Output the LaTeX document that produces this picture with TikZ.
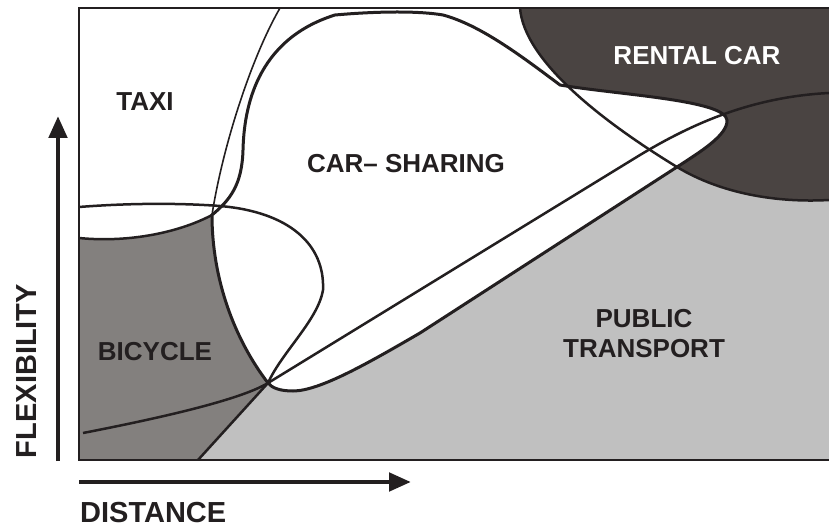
\documentclass[tikz,border=0pt]{standalone}
\usepackage{fontspec}
\setmainfont{Liberation Sans}
\usetikzlibrary{arrows.meta}
\definecolor{pubgray}{HTML}{C0C0C0}
\definecolor{bikegray}{HTML}{83807E}
\definecolor{rentdark}{HTML}{4A4442}
\definecolor{ink}{HTML}{231F20}
\begin{document}
\begin{tikzpicture}[x=1pt,y=-1pt,
  lbl/.style={font=\bfseries\fontsize{26}{29}\selectfont, text=ink, inner sep=0pt, anchor=base},
  axlbl/.style={font=\bfseries\fontsize{29}{32}\selectfont, text=ink, inner sep=0pt},
  bnd/.style={draw=ink, line width=2.5pt, line join=round},
  csline/.style={draw=ink, line width=3pt, line join=round},
  taxiline/.style={draw=ink, line width=1.6pt},
  framel/.style={draw=ink, line width=2.8pt},
  axarrow/.style={draw=ink, line width=4.8pt, -{Triangle[length=22pt,width=18pt]}},
]
\useasboundingbox (0,0) rectangle (829,529);

% public transport
\fill[pubgray] (198,460) -- (268,383) -- (680,160) -- (829,118) -- (829,460) -- cycle;
% rental car
\fill[rentdark] (520,8) .. controls (524,60) and (600,120) .. (677,167)
  .. controls (720,193) and (775,203) .. (829,200) -- (829,8) -- cycle;
% bicycle
\fill[bikegray] (79,238) .. controls (130,243) and (180,232) .. (212,215)
  .. controls (212,280) and (235,340) .. (268,383) -- (198,460) -- (79,460) -- cycle;
% car-sharing
\path[fill=white] (268,383) .. controls (235,340) and (212,280) .. (212,215)
  .. controls (230,200) and (242,185) .. (243,150)
  .. controls (244,110) and (255,40) .. (335,15)
  .. controls (380,11) and (420,11) .. (443,15)
  .. controls (480,25) and (520,55) .. (560,85)
  .. controls (620,95) and (725,100) .. (727,120)
  .. controls (728,135) and (700,152) .. (677,167)
  -- (420,333)
  .. controls (370,362) and (320,391) .. (293,391)
  .. controls (280,391) and (272,388) .. (268,383) -- cycle;

% lines
\draw[bnd] (520,8) .. controls (524,60) and (600,120) .. (677,167)
  .. controls (720,193) and (775,203) .. (829,200);
\draw[bnd] (79,207) .. controls (130,203) and (180,203) .. (220,206)
  .. controls (290,212) and (325,245) .. (323,290)
  .. controls (318,320) and (282,352) .. (268,383);
\draw[taxiline] (280,8) .. controls (250,60) and (222,150) .. (212,215);
\draw[bnd] (83,433) .. controls (160,418) and (240,400) .. (268,383) -- (640,155)
  .. controls (690,125) and (750,97) .. (829,93);
\draw[bnd] (79,238) .. controls (130,243) and (180,232) .. (212,215);
\draw[bnd] (268,383) -- (198,460);
\draw[csline] (268,383) .. controls (235,340) and (212,280) .. (212,215)
  .. controls (230,200) and (242,185) .. (243,150)
  .. controls (244,110) and (255,40) .. (335,15)
  .. controls (380,11) and (420,11) .. (443,15)
  .. controls (480,25) and (520,55) .. (560,85)
  .. controls (620,95) and (725,100) .. (727,120)
  .. controls (728,135) and (700,152) .. (677,167)
  -- (420,333)
  .. controls (370,362) and (320,391) .. (293,391)
  .. controls (280,391) and (272,388) .. (268,383) -- cycle;

% frame
\draw[framel] (829,8) -- (79,8) -- (79,460) -- (829,460);

% axes
\coordinate (vA) at (58,461);
\coordinate (vB) at (58,116);
\draw[axarrow] (vA) -- (vB);
\coordinate (hA) at (79,482);
\coordinate (hB) at (411,482);
\draw[axarrow] (hA) -- (hB);

% labels
\node[lbl] (taxi) at (145,111) {TAXI};
\node[lbl] (cs) at (406,173) {CAR– SHARING};
\node[lbl, text=white] (rent) at (697,65) {RENTAL CAR};
\node[lbl] (bike) at (155,360) {BICYCLE};
\node[lbl] (pt1) at (644,327) {PUBLIC};
\node[lbl] (pt2) at (644,357) {TRANSPORT};
\node[axlbl, anchor=base west] (dist) at (80,522) {DISTANCE};
\node[axlbl, anchor=base, rotate=90] (flex) at (36,371) {FLEXIBILITY};
\end{tikzpicture}
\end{document}
